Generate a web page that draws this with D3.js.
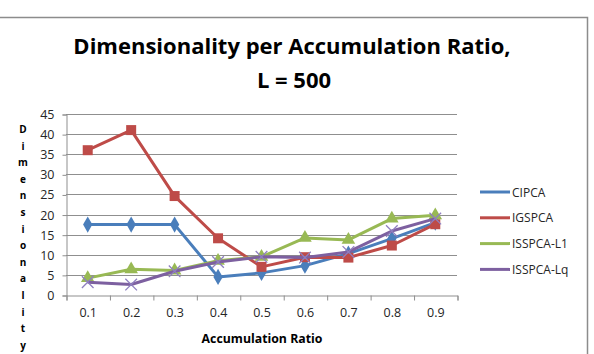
<!DOCTYPE html>
<html>
<head>
<meta charset="utf-8">
<script src="https://cdn.jsdelivr.net/npm/d3@7"></script>
<style>
  body { margin: 0; background: #fff; }
  svg { display: block; font-family: "Open Sans", sans-serif; }
</style>
</head>
<body>
<div id="chart"></div>
<script>
// data
const ratios = ["0.1", "0.2", "0.3", "0.4", "0.5", "0.6", "0.7", "0.8", "0.9"];
const cipca = [17.5, 17.5, 17.5, 4.5, 5.5, 7.3, 10.3, 14, 18];
const igspca = [36, 41, 24.6, 14.1, 7, 9.4, 9.3, 12.3, 17.6];
const isspcaL1 = [4.2, 6.4, 6.1, 8.5, 9.5, 14.2, 13.7, 19, 19.8];
const isspcaLq = [3.2, 2.6, 5.9, 8.2, 9.5, 9.3, 10.7, 15.9, 19];
const yTicks = [0, 5, 10, 15, 20, 25, 30, 35, 40, 45];

const seriesList = [
  { name: "CIPCA", values: cipca, color: "#4A7EBB", marker: "diamond" },
  { name: "IGSPCA", values: igspca, color: "#BE4B48", marker: "square" },
  { name: "ISSPCA-L1", values: isspcaL1, color: "#98B954", marker: "triangle" },
  { name: "ISSPCA-Lq", values: isspcaLq, color: "#7D60A0", marker: "cross" },
];

const W = 594, H = 354;
const plot = { left: 66, right: 457, top: 114, bottom: 295 };

const svg = d3.select("#chart").append("svg")
  .attr("width", W).attr("height", H);

// chart border (only top and right are visible in the crop)
svg.append("path")
  .attr("d", `M-2,17.5H587.5V${H + 2}`)
  .attr("fill", "none")
  .attr("stroke", "#8c8c8c")
  .attr("stroke-width", 1.5);

const x = d3.scalePoint().domain(ratios)
  .range([plot.left, plot.right]).padding(0.5);
const xEdge = d3.scaleLinear().domain([0, ratios.length])
  .range([plot.left, plot.right]);
const y = d3.scaleLinear().domain([0, 45])
  .range([plot.bottom, plot.top]);

// gridlines
svg.append("g")
  .selectAll("line")
  .data(yTicks.filter(d => d > 0))
  .join("line")
  .attr("x1", plot.left).attr("x2", plot.right)
  .attr("y1", d => Math.round(y(d)) + 0.5).attr("y2", d => Math.round(y(d)) + 0.5)
  .attr("stroke", "#8f8f8f")
  .attr("stroke-width", 1.2);

// y axis
svg.append("g")
  .attr("transform", `translate(${plot.left + 0.5},0.5)`)
  .call(d3.axisLeft(y).tickValues(yTicks).tickSize(4).tickPadding(8))
  .call(g => {
    g.selectAll(".domain, .tick line").attr("stroke", "#8f8f8f");
    g.selectAll(".tick text")
      .attr("fill", "#262626")
      .style("font-size", "12.5px")
      .style("font-family", "'Open Sans', sans-serif");
  });

// x axis: tick marks at category edges, labels at centres
svg.append("g")
  .attr("transform", `translate(0.5,${plot.bottom + 0.5})`)
  .call(d3.axisBottom(xEdge).tickValues(d3.range(ratios.length + 1)).tickSize(5).tickFormat(""))
  .call(g => g.selectAll(".domain, .tick line").attr("stroke", "#8f8f8f"));

svg.append("g")
  .attr("transform", `translate(0,${plot.bottom})`)
  .call(d3.axisBottom(x).tickSize(0).tickPadding(13))
  .call(g => {
    g.select(".domain").remove();
    g.selectAll(".tick text")
      .attr("fill", "#262626")
      .style("font-size", "12.5px")
      .style("font-family", "'Open Sans', sans-serif");
  });

// markers
const symbolFor = {
  diamond: d3.symbol().type(d3.symbolDiamond).size(75),
  square: d3.symbol().type(d3.symbolSquare).size(100),
  triangle: d3.symbol().type(d3.symbolTriangle).size(80),
  cross: d3.symbol().type(d3.symbolX).size(90),
};

const lineGen = d3.line()
  .x((d, i) => x(ratios[i]))
  .y(d => y(d));

seriesList.forEach(s => {
  const g = svg.append("g");
  g.append("path")
    .datum(s.values)
    .attr("fill", "none")
    .attr("stroke", s.color)
    .attr("stroke-width", 3)
    .attr("stroke-linejoin", "round")
    .attr("d", lineGen);
  g.selectAll("path.mk")
    .data(s.values)
    .join("path")
    .attr("class", "mk")
    .attr("transform", (d, i) => `translate(${x(ratios[i])},${y(d)})`)
    .attr("d", symbolFor[s.marker])
    .attr("fill", s.marker === "cross" ? "none" : s.color)
    .attr("stroke", s.marker === "cross" ? "#8f7fc0" : "none")
    .attr("stroke-width", 1.3);
});

// legend
const legend = svg.append("g").attr("transform", "translate(480,192)");
const row = legend.selectAll("g")
  .data(seriesList)
  .join("g")
  .attr("transform", (d, i) => `translate(0,${i * 25.8})`);
row.append("line")
  .attr("x1", 0).attr("x2", 30)
  .attr("stroke", d => d.color)
  .attr("stroke-width", 3);
row.append("path")
  .attr("transform", "translate(15,0)")
  .attr("d", d => symbolFor[d.marker])
  .attr("fill", d => d.marker === "cross" ? "none" : d.color)
  .attr("stroke", d => d.marker === "cross" ? "#8f7fc0" : "none")
  .attr("stroke-width", 1.3);
row.append("text")
  .attr("x", 32).attr("y", 4.5)
  .attr("fill", "#262626")
  .style("font-size", "12px")
  .text(d => d.name);

// title
const title = svg.append("text")
  .attr("text-anchor", "middle")
  .attr("fill", "#000")
  .style("font-size", "22px")
  .style("font-weight", "bold");
title.append("tspan").attr("x", 292).attr("y", 54).text("Dimensionality per Accumulation Ratio,");
title.append("tspan").attr("x", 294).attr("y", 88).text("L = 500");

// x axis title
svg.append("text")
  .attr("x", 262).attr("y", 343)
  .attr("text-anchor", "middle")
  .attr("fill", "#000")
  .style("font-size", "12.3px")
  .style("font-weight", "bold")
  .text("Accumulation Ratio");

// y axis title: one letter per line
const yTitle = "Dimensionality".split("");
svg.append("g")
  .selectAll("text")
  .data(yTitle)
  .join("text")
  .attr("x", 23)
  .attr("y", (d, i) => 133 + i * 16.6)
  .attr("text-anchor", "middle")
  .attr("fill", "#000")
  .style("font-size", "10px")
  .style("font-weight", "bold")
  .text(d => d);
</script>
</body>
</html>
